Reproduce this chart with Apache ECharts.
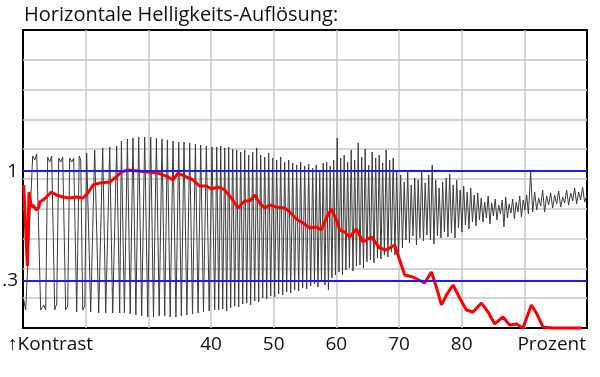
<!DOCTYPE html>
<html lang="de">
<head>
  <meta charset="UTF-8">
  <title>Horizontale Helligkeits-Auflösung</title>
  <script src="https://cdn.jsdelivr.net/npm/echarts@6/dist/echarts.min.js"></script>
  <style>
    html, body { margin: 0; padding: 0; background: #fff; }
    #main { width: 600px; height: 377px; }
  </style>
</head>
<body>
  <div id="main"></div>

  <script type="text/javascript">

    var chartTitle = 'Horizontale Helligkeits-Auflösung:';
    var xTickLabels = [40, 50, 60, 70, 80];
    var refLevels = [1, 0.3];
    var refLabels = ['1', '.3'];

    // Messsignal (Wobbel), Spitzen und Täler abwechselnd: [Prozent, Kontrast]
    var traceSlow = [
      [10.11,0.18],[10.43,0.115],[11.55,1.097],[11.87,1.071],[12.19,1.109],[12.82,0.115],[13.30,0.147],[13.62,0.115],
      [13.94,1.090],[14.26,1.058],[14.58,1.097],[15.06,0.115],[15.38,0.153],[15.70,1.084],[16.02,1.058],[16.34,1.090],
      [16.81,0.115],[17.13,0.140],[17.45,1.084],[17.77,1.058],[18.09,1.084],[18.57,0.102],[18.97,1.097],[19.21,1.071],
      [19.53,0.115],[19.85,0.140],[20.16,1.116],[20.80,0.102],[21.44,1.135],[22.08,0.096],[22.72,1.148],[23.20,0.096],
      [23.84,1.154],[24.31,0.096],[24.95,1.160],[25.43,0.096]
    ];
    var traceMid = [
      [25.70,1.192],[26.18,0.096],[26.66,1.205],[27.11,0.089],[27.55,1.211],[28.01,0.083],[28.46,1.218],[28.94,0.077],
      [29.42,1.218],[29.90,0.070],[30.38,1.218],[30.82,0.070],[31.29,1.211],[31.73,0.077],[32.18,1.205],[32.61,0.077],
      [33.04,1.199],[33.49,0.070],[33.94,1.192],[34.40,0.070],[34.85,1.186],[35.27,0.077],[35.69,1.186],[36.15,0.083],
      [36.60,1.180],[37.05,0.089],[37.51,1.173],[37.94,0.096],[38.36,1.167],[38.80,0.102],[39.26,1.160],[39.71,0.108],
      [40.16,1.154],[40.59,0.115]
    ];
    var traceFast = [
      [40.91,1.154],[41.23,0.115],[41.55,1.160],[41.87,0.121],[42.19,1.148],[42.50,0.108],[42.82,1.154],[43.14,0.128],
      [43.46,1.141],[43.78,0.140],[44.10,1.135],[44.42,0.134],[44.74,1.122],[45.06,0.153],[45.38,1.135],[45.70,0.159],
      [46.01,1.103],[46.33,0.147],[46.65,1.122],[46.97,0.172],[47.29,1.148],[47.61,0.166],[47.93,1.103],[48.25,0.191],
      [48.57,1.090],[48.89,0.185],[49.21,1.116],[49.53,0.204],[49.84,1.084],[50.16,0.198],[50.48,1.071],[50.80,0.217],
      [51.12,1.090],[51.44,0.210],[51.76,1.058],[52.08,0.230],[52.40,1.071],[52.72,0.223],[53.04,1.052],[53.35,0.242],
      [53.67,1.039],[53.99,0.236],[54.31,1.058],[54.63,0.255],[54.95,1.033],[55.27,0.249],[55.59,1.046],[55.91,0.268]
    ];
    var traceAlias = [
      [56.23,1.020],[56.51,0.281],[56.79,1.039],[57.07,0.261],[57.35,1.007],[57.63,0.300],[57.90,1.052],[58.18,0.274],
      [58.46,1.058],[58.74,0.242],[59.02,1.033],[59.30,0.319],[59.58,1.071],[59.86,0.338],[60.14,1.211],[60.42,0.357],
      [60.70,1.084],[60.98,0.338],[61.25,1.103],[61.53,0.370],[61.81,1.058],[62.09,0.383],[62.37,1.135],[62.65,0.363],
      [62.93,1.071],[63.21,0.395],[63.49,1.180],[63.77,0.402],[64.05,1.090],[64.33,0.383],[64.60,1.141],[64.88,0.421],
      [65.16,1.039],[65.44,0.434],[65.72,1.122],[66.00,0.414],[66.28,1.084],[66.56,0.446],[66.84,1.103],[67.12,0.440],
      [67.39,1.052],[67.67,0.465],[67.95,1.135],[68.23,0.453],[68.51,1.071],[68.79,0.485],[69.07,1.084],[69.35,0.465],
      [69.63,1.007],[69.91,0.446]
    ];
    var traceNoise = [
      [70.27,0.976],[70.55,0.510],[70.83,0.931],[71.11,0.561],[71.39,0.995],[71.67,0.542],[71.95,0.912],[72.23,0.587],
      [72.51,0.956],[72.79,0.529],[73.06,0.944],[73.34,0.574],[73.62,1.007],[73.90,0.555],[74.18,0.925],[74.46,0.593],
      [74.74,0.976],[75.02,0.561],[75.30,1.039],[75.58,0.536],[75.86,0.944],[76.14,0.587],[76.41,0.893],[76.69,0.574],
      [76.97,0.931],[77.25,0.612],[77.53,0.956],[77.81,0.580],[78.09,0.982],[78.37,0.606],[78.65,0.912],[78.93,0.574],
      [79.21,0.944],[79.49,0.638],[79.76,0.880],[80.04,0.612],[80.32,0.905],[80.60,0.657],[80.88,0.867],[81.16,0.631],
      [81.44,0.893],[81.72,0.676],[82.00,0.848],[82.28,0.650],[82.56,0.861],[82.84,0.689]
    ];
    var traceTail = [
      [83.12,0.829],[83.40,0.676],[83.67,0.803],[83.95,0.701],[84.23,0.842],[84.51,0.663],[84.79,0.797],[85.07,0.714],
      [85.35,0.822],[85.63,0.689],[85.91,0.784],[86.19,0.727],[86.47,0.816],[86.75,0.644],[87.02,0.835],[87.30,0.701],
      [87.58,0.791],[87.86,0.733],[88.14,0.822],[88.42,0.695],[88.70,0.803],[88.98,0.740],[89.26,0.842],[89.54,0.708],
      [89.82,0.816],[90.10,0.752],[90.37,0.848],[90.65,0.727],[91.01,0.995],[91.33,0.740],[91.65,0.867],[91.97,0.752],
      [92.29,0.829],[92.61,0.778],[92.92,0.880],[93.24,0.740],[93.56,0.842],[93.88,0.784],[94.20,0.861],[94.52,0.765],
      [94.84,0.848],[95.16,0.791],[95.48,0.873],[95.80,0.771],[96.11,0.835],[96.43,0.797],[96.75,0.880],[97.07,0.784],
      [97.39,0.861],[97.71,0.810],[98.03,0.893],[98.35,0.791],[98.67,0.867],[98.99,0.816],[99.30,0.899],[99.62,0.803],
      [100,0.845]
    ];

    // Kontrastkurve (rot)
    var contrastCurve = [
      [10.11,0.912],[10.70,0.395],[10.96,0.867],[11.34,0.771],[11.60,0.784],[12.14,0.752],[12.55,0.771],[12.66,0.803],
      [13.19,0.816],[13.73,0.835],[14.53,0.867],[15.33,0.848],[16.38,0.835],[17.45,0.829],[18.52,0.835],[19.57,0.829],
      [20.37,0.861],[21.17,0.912],[22.24,0.925],[23.84,0.931],[24.90,0.963],[25.70,0.995],[26.75,1.007],[28.35,1.001],
      [29.95,0.995],[31.54,0.988],[33.14,0.963],[33.94,0.944],[34.73,0.988],[35.80,0.969],[37.13,0.944],[38.20,0.905],
      [39.27,0.905],[40.06,0.886],[41.12,0.899],[42.19,0.880],[43.25,0.829],[44.31,0.765],[45.38,0.810],[46.17,0.810],
      [46.97,0.848],[47.77,0.797],[48.57,0.765],[49.37,0.784],[50.43,0.771],[51.76,0.765],[52.56,0.740],[53.63,0.695],
      [54.68,0.669],[55.75,0.638],[56.82,0.644],[57.62,0.625],[58.41,0.701],[59.21,0.759],[60.01,0.689],[60.54,0.625],
      [61.33,0.612],[62.13,0.580],[63.20,0.631],[64.25,0.548],[65.59,0.580],[66.92,0.510],[67.99,0.497],[69.31,0.529],
      [70.11,0.434],[70.91,0.338],[72.23,0.325],[74.10,0.287],[75.17,0.357],[75.97,0.261],[76.77,0.147],[77.56,0.210],
      [78.62,0.274],[79.68,0.191],[80.75,0.115],[81.81,0.102],[83.15,0.159],[84.20,0.102],[85.27,0.026],[86.59,0.070],
      [87.66,0.019],[88.73,0.026],[89.78,0],[91.12,0.147],[91.92,0.096],[92.98,0.006],[94.57,0],[99.26,0]
    ];

    var scopeTrace = traceSlow.concat(traceMid, traceFast, traceAlias, traceNoise, traceTail);

    var labelFont = 'Open Sans';
    var gridLine = { color: '#c6c6c6', width: 1.5 };

    var myChart = echarts.init(document.getElementById('main'));

    var option = {
      animation: false,
      title: {
        text: chartTitle,
        left: 24,
        top: 5,
        padding: 0,
        textStyle: { fontFamily: labelFont, fontSize: 20, fontWeight: 'normal', color: '#111' }
      },
      grid: {
        left: 23, right: 13, top: 30, bottom: 49,
        show: true,
        borderColor: '#000',
        borderWidth: 2
      },
      xAxis: {
        type: 'value',
        min: 10, max: 100, interval: 10,
        axisLine: { show: false },
        axisTick: { show: false },
        splitLine: { showMinLine: false, showMaxLine: false, lineStyle: gridLine },
        axisLabel: {
          margin: 7,
          fontFamily: labelFont, fontSize: 19, color: '#111',
          formatter: function (v) {
            return xTickLabels.indexOf(v) >= 0 ? String(v) : '';
          }
        }
      },
      yAxis: {
        type: 'value',
        min: 0, max: 1.9, interval: 0.19,
        axisLine: { show: false },
        axisTick: { show: false },
        axisLabel: { show: false },
        splitLine: { showMinLine: false, showMaxLine: false, lineStyle: gridLine }
      },
      graphic: [
        { type: 'text', left: 8, top: 335,
          style: { text: '↑Kontrast', font: '19px "Open Sans"', fill: '#111' } },
        { type: 'text', right: 14, top: 335,
          style: { text: 'Prozent', font: '19px "Open Sans"', fill: '#111' } }
      ],
      series: [
        {
          name: 'Signal',
          type: 'line',
          data: scopeTrace,
          symbol: 'none',
          silent: true,
          z: 2,
          lineStyle: { color: '#3c3c3c', width: 1 },
          markLine: {
            silent: true,
            symbol: 'none',
            lineStyle: { color: '#1a1aff', width: 2, type: 'solid' },
            label: {
              position: 'start',
              distance: 5,
              fontFamily: labelFont, fontSize: 19, color: '#111'
            },
            data: refLevels.map(function (v, i) {
              return { yAxis: v, label: { formatter: refLabels[i] } };
            })
          }
        },
        {
          name: 'Kontrast',
          type: 'line',
          data: contrastCurve,
          symbol: 'none',
          silent: true,
          clip: false,
          z: 4,
          lineStyle: { color: '#ff0000', width: 3 }
        }
      ]
    };

    myChart.setOption(option);
  </script>
</body>
</html>
